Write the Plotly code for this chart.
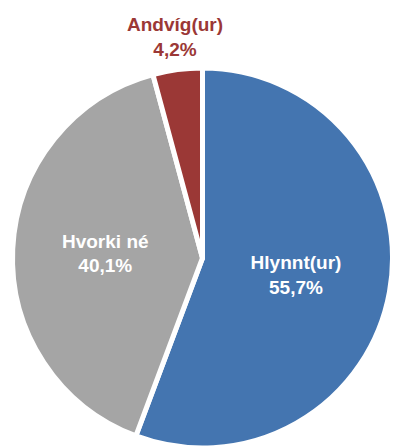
import plotly.graph_objects as go

# Survey answer shares (percent)
labels = ["Hlynnt(ur)", "Hvorki né", "Andvíg(ur)"]
values = [55.7, 40.1, 4.2]
colors = ["#4475b0", "#a5a5a5", "#9b3836"]
text_colors = ["#ffffff", "#ffffff", "#9b3836"]
positions = ["inside", "inside", "none"]

font_family = "Liberation Sans Narrow, Arial Narrow, Liberation Sans, sans-serif"

W, H = 395, 448
margin = dict(l=10, r=0, t=68, b=0)

fig = go.Figure(
    go.Pie(
        labels=labels,
        values=values,
        sort=False,
        direction="clockwise",
        rotation=0,
        marker=dict(colors=colors, line=dict(color="white", width=5)),
        texttemplate="<b>%{label}<br>%{value:.1f}%</b>",
        textposition=positions,
        insidetextorientation="horizontal",
        textfont=dict(family=font_family, size=19, color=text_colors),
        hoverinfo="label+value",
        showlegend=False,
    )
)

# The small slice gets its label above the pie, in its own colour
small = 2
plot_w = W - margin["l"] - margin["r"]
plot_h = H - margin["t"] - margin["b"]
fig.add_annotation(
    x=(175 - margin["l"]) / plot_w,
    y=(H - margin["b"] - 37) / plot_h,
    xref="paper",
    yref="paper",
    xanchor="center",
    yanchor="middle",
    text=f"<b>{labels[small]}<br>{values[small]:.1f}%</b>".replace(".", ","),
    showarrow=False,
    font=dict(family=font_family, size=19, color=text_colors[small]),
    align="center",
)

fig.update_layout(
    width=W,
    height=H,
    margin=margin,
    paper_bgcolor="white",
    plot_bgcolor="white",
    separators=",.",
)

fig.write_html("out.html")
